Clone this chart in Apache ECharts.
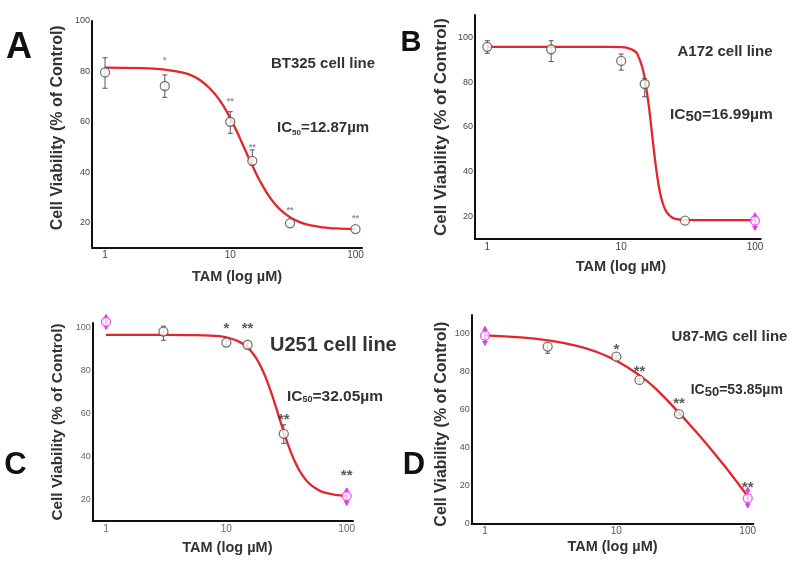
<!DOCTYPE html>
<html><head><meta charset="utf-8">
<script src="https://cdn.jsdelivr.net/npm/echarts@6/dist/echarts.min.js"></script>
<style>html,body{margin:0;padding:0;background:#fff}#c{width:800px;height:572px}</style>
</head><body><div id="c"></div>
<script>
// ---------------- data ----------------
const conc = [1, 3, 10, 15, 30, 100];          // TAM concentration, µM
const yTicksA = [20, 40, 60, 80, 100];
const yTicksB = [20, 40, 60, 80, 100];
const yTicksC = [20, 40, 60, 80, 100];
const yTicksD = [0, 20, 40, 60, 80, 100];

// Panel A - BT325
const viabA  = [79.6, 74.2, 60.0, 44.5, 19.7, 17.4];
const errHiA = [85.4, 78.6, 64.0, 48.8, 19.7, 17.4];
const errLoA = [73.3, 69.7, 55.4, 42.8, 19.7, 17.4];
const starsA = ['', '*', '**', '**', '**', '**'];
const starYA = [null, 85.2, 69.0, 50.8, 25.6, 22.3];
const curveConcA = [1, 2, 3, 4, 5, 6, 7, 8, 9, 10, 11, 12, 13, 14, 15, 17, 20, 23, 26, 30, 35, 40, 50, 60, 75, 100];
const curveA = [81.5, 81.3, 80.7, 79.7, 78.2, 75.8, 72.8, 69.4, 65.5, 61.4, 57.3, 53.2, 49.4, 45.8, 42.6, 37.1, 31.1, 27.1, 24.4, 22.1, 20.4, 19.4, 18.4, 17.9, 17.6, 17.4];

// Panel B - A172
const viabB  = [95.8, 94.7, 89.5, 79.2, 18.2, 18.2];
const errHiB = [98.5, 98.5, 92.6, 81.7, 18.2, 21.5];
const errLoB = [92.9, 89.2, 85.4, 73.5, 18.2, 14.0];
const starsB = ['', '', '', '', '', ''];
const starYB = [null, null, null, null, null, null];
const curveConcB = [1, 5, 8, 10, 11, 12, 13, 13.5, 14, 14.5, 15, 16, 17, 18, 19, 20, 21, 22, 24, 26, 30, 40, 60, 100];
const curveB = [95.8, 95.8, 95.8, 95.7, 95.4, 94.6, 93.2, 91.2, 88.9, 85.8, 81.7, 70.6, 57.1, 44.3, 34.5, 28.0, 24.1, 21.8, 19.6, 18.9, 18.5, 18.4, 18.4, 18.4];

// Panel C - U251
const viabC  = [102.5, 98.0, 92.9, 91.9, 50.5, 21.6];
const errHiC = [105.8, 100.5, 94.0, 93.0, 54.7, 25.2];
const errLoC = [99.2, 94.0, 91.8, 90.8, 46.1, 17.4];
const starsC = ['', '', '*', '**', '**', '**'];
const starYC = [null, null, 100.8, 100.8, 58.8, 32.9];
const curveConcC = [1, 3, 5, 8, 10, 12, 14, 16, 18, 20, 22, 25, 28, 32, 36, 40, 45, 50, 60, 70, 85, 100];
const curveC = [96.5, 96.5, 96.4, 96.0, 95.3, 94.0, 92.0, 89.0, 85.0, 80.0, 74.4, 65.4, 56.6, 46.7, 39.2, 34.0, 29.6, 26.9, 24.0, 22.8, 22.0, 21.6];

// Panel D - U87-MG
const viabD  = [99.1, 93.3, 88.0, 75.7, 57.7, 13.2];
const errHiD = [103.8, 95.0, 88.8, 76.5, 58.5, 18.8];
const errLoD = [94.2, 89.8, 87.2, 74.9, 56.9, 8.3];
const starsD = ['', '', '*', '**', '**', '**'];
const starYD = [null, null, 93.6, 81.9, 65.1, 20.9];
const curveConcD = [1, 2, 3, 5, 7, 10, 15, 20, 30, 40, 55, 65, 78, 90, 100];
const curveD = [99.2, 98.0, 96.6, 93.7, 90.6, 85.8, 78.1, 71.0, 58.3, 48.7, 37.4, 31.2, 24.2, 18.5, 14.2];

const cellLines = ['BT325 cell line', 'A172 cell line', 'U251 cell line', 'U87-MG cell line'];
const ic50 = ['12.87', '16.99', '32.05', '53.85'];
const panelLetters = ['A', 'B', 'C', 'D'];
const xName = 'TAM (log µM)';
const yName = 'Cell Viability (% of Control)';

// ---------------- layout / style ----------------
const FONT = 'Liberation Sans, Arial, sans-serif';
const RED = '#e3262b';
const MAG = '#e33be6';
const panels = [
  { grid: {left: 92, top: 21, width: 270, height: 226.7}, x: [0.787, 112.7], y: [10, 100], ticks: yTicksA,
    viab: viabA, hi: errHiA, lo: errLoA, stars: starsA, starY: starYA, cx: curveConcA, cy: curveA, mag: [],
    starSize: 9, starColor: '#777', labColor: '#444', xGap: 22, yGap: 26, xNamePad: [0, 0, 0, 20], yNamePad: [0, 0, 0, 13], yNameSize: 16 },
  { grid: {left: 475, top: 15, width: 285.7, height: 224}, x: [0.809, 110.3], y: [10, 110], ticks: yTicksB,
    viab: viabB, hi: errHiB, lo: errLoB, stars: starsB, starY: starYB, cx: curveConcB, cy: curveB, mag: [5],
    starSize: 9, starColor: '#777', labColor: '#444', xGap: 20, yGap: 25, xNamePad: [0, 0, 0, 6], yNamePad: 0, yNameSize: 17 },
  { grid: {left: 92.7, top: 323, width: 260.3, height: 198}, x: [0.775, 112.8], y: [10, 102], ticks: yTicksC,
    viab: viabC, hi: errHiC, lo: errLoC, stars: starsC, starY: starYC, cx: curveConcC, cy: curveC, mag: [0, 5],
    starSize: 15, starColor: '#333', labColor: '#666', xGap: 19, yGap: 27, xNamePad: [0, 0, 0, 9], yNamePad: 0, yNameSize: 15.4 },
  { grid: {left: 471.7, top: 315, width: 281.6, height: 208.3}, x: [0.792, 110.3], y: [0, 110], ticks: yTicksD,
    viab: viabD, hi: errHiD, lo: errLoD, stars: starsD, starY: starYD, cx: curveConcD, cy: curveD, mag: [0, 5],
    starSize: 15, starColor: '#333', labColor: '#555', xGap: 16, yGap: 22, xNamePad: [0, 0, 0, 0], yNamePad: [0, 10, 0, 0], yNameSize: 16 }
];

const grids = [], xAxes = [], yAxes = [], series = [];

function errRender(params, api) {
  const x = api.value(0), lo = api.value(1), hi = api.value(2), mag = api.value(3);
  if (hi === lo) return null;
  const p1 = api.coord([x, hi]), p2 = api.coord([x, lo]);
  const col = mag ? MAG : '#555';
  const ch = [{type: 'line', shape: {x1: p1[0], y1: p1[1], x2: p2[0], y2: p2[1]}, style: {stroke: col, lineWidth: mag ? 2 : 1}}];
  if (mag) {
    ch.push({type: 'polygon', shape: {points: [[p1[0] - 3, p1[1] + 4], [p1[0] + 3, p1[1] + 4], [p1[0], p1[1] - 1]]}, style: {fill: col}});
    ch.push({type: 'polygon', shape: {points: [[p2[0] - 3, p2[1] - 4], [p2[0] + 3, p2[1] - 4], [p2[0], p2[1] + 1]]}, style: {fill: col}});
  } else {
    ch.push({type: 'line', shape: {x1: p1[0] - 2.5, y1: p1[1], x2: p1[0] + 2.5, y2: p1[1]}, style: {stroke: col, lineWidth: 1}});
    ch.push({type: 'line', shape: {x1: p2[0] - 2.5, y1: p2[1], x2: p2[0] + 2.5, y2: p2[1]}, style: {stroke: col, lineWidth: 1}});
  }
  return {type: 'group', children: ch};
}

panels.forEach((p, i) => {
  grids.push(Object.assign({containLabel: false}, p.grid));
  xAxes.push({
    type: 'log', logBase: 10, gridIndex: i, min: p.x[0], max: p.x[1],
    axisLine: {show: true, onZero: false, lineStyle: {color: '#111', width: 2}},
    axisTick: {show: false}, splitLine: {show: false},
    axisLabel: {showMinLabel: false, showMaxLabel: false, margin: 3, fontSize: 10, color: p.labColor, fontFamily: FONT},
    name: xName, nameLocation: 'middle', nameGap: p.xGap,
    nameTextStyle: {fontSize: 14.5, fontWeight: 'bold', color: '#333', fontFamily: FONT, padding: p.xNamePad}
  });
  yAxes.push({
    type: 'value', gridIndex: i, min: p.y[0], max: p.y[1],
    axisLine: {show: true, onZero: false, lineStyle: {color: '#111', width: 2}},
    axisTick: {show: false}, splitLine: {show: false},
    axisLabel: {customValues: p.ticks, margin: 2, fontSize: 9, color: p.labColor, fontFamily: FONT},
    name: yName, nameLocation: 'middle', nameGap: p.yGap,
    nameTextStyle: {fontSize: p.yNameSize, fontWeight: 'bold', color: '#333', fontFamily: FONT, padding: p.yNamePad}
  });
  // fitted curve
  series.push({
    type: 'line', xAxisIndex: i, yAxisIndex: i, smooth: 0.5, showSymbol: false, silent: true,
    data: p.cx.map((c, k) => [c, p.cy[k]]),
    lineStyle: {color: RED, width: 2.3}, z: 3
  });
  // error bars
  series.push({
    type: 'custom', xAxisIndex: i, yAxisIndex: i, renderItem: errRender, clip: false, z: 4,
    encode: {x: 0, y: [1, 2]},
    data: conc.map((c, k) => [c, p.lo[k], p.hi[k], p.mag.includes(k) ? 1 : 0])
  });
  // points
  series.push({
    type: 'scatter', xAxisIndex: i, yAxisIndex: i, symbol: 'circle', symbolSize: 9, clip: false, z: 5,
    itemStyle: {color: '#fff', borderColor: '#555', borderWidth: 1.3},
    data: conc.map((c, k) => p.mag.includes(k)
      ? {value: [c, p.viab[k]], itemStyle: {borderColor: MAG, color: '#fbe9fb'}}
      : [c, p.viab[k]])
  });
  // significance stars
  series.push({
    type: 'scatter', xAxisIndex: i, yAxisIndex: i, symbolSize: 0, clip: false, z: 6, silent: true,
    data: conc.map((c, k) => [c, p.starY[k], p.stars[k]]).filter(d => d[2]),
    label: {show: true, position: 'inside', offset: [0, p.starSize * 0.25], formatter: q => q.value[2],
      fontSize: p.starSize, fontWeight: 'bold', color: p.starColor, fontFamily: FONT}
  });
});

function icText(x, y, val, mainSize, subSize, drop) {
  return {
    type: 'text', x: x, y: y, z: 10,
    style: {
      text: '{m|IC}{s|50}{m|=' + val + 'µm}',
      verticalAlign: 'middle', align: 'left',
      rich: {
        m: {fontSize: mainSize, fontWeight: 'bold', fontFamily: FONT, fill: '#333', color: '#333', verticalAlign: 'middle'},
        s: {fontSize: subSize, fontWeight: 'bold', fontFamily: FONT, fill: '#333', color: '#333', verticalAlign: 'middle', padding: [2 * drop, 0, 0, 0]}
      }
    }
  };
}
function txt(x, y, s, size, align, color) {
  return {type: 'text', x: x, y: y, z: 10,
    style: {text: s, fontSize: size, fontWeight: 'bold', fontFamily: FONT, fill: color || '#333', align: align || 'center', verticalAlign: 'middle'}};
}

const graphics = [
  txt(19, 48, panelLetters[0], 36, 'center', '#111'),
  txt(411, 43, panelLetters[1], 29, 'center', '#111'),
  txt(15.5, 465, panelLetters[2], 31, 'center', '#111'),
  txt(414, 465, panelLetters[3], 31, 'center', '#111'),
  txt(323, 64, cellLines[0], 15, 'center'),
  txt(725, 51.7, cellLines[1], 15, 'center'),
  txt(270, 345, cellLines[2], 20, 'left'),
  txt(729.5, 336.7, cellLines[3], 15, 'center'),
  icText(277, 128, ic50[0], 15, 8, 5),
  icText(670, 115, ic50[1], 15.5, 15, 2),
  icText(287, 396.7, ic50[2], 15.5, 9, 3),
  icText(690.7, 390, ic50[3], 14, 13, 2.5)
];

const chart = echarts.init(document.getElementById('c'), null, {renderer: 'canvas'});
chart.setOption({
  animation: false,
  backgroundColor: '#fff',
  grid: grids, xAxis: xAxes, yAxis: yAxes, series: series,
  graphic: graphics
});
</script></body></html>
